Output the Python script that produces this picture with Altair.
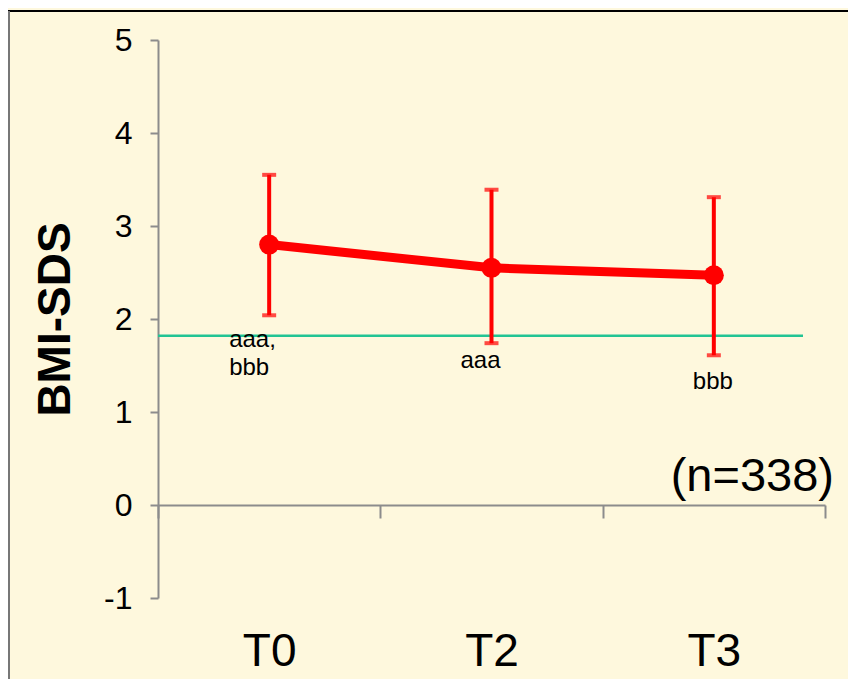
import altair as alt
import pandas as pd

categories = ["T0", "T2", "T3"]
means = [2.80, 2.55, 2.47]
upper = [3.55, 3.39, 3.31]
lower = [2.04, 1.74, 1.61]
reference_level = 1.82
y_ticks = [-1, 0, 1, 2, 3, 4, 5]
ann_cat = ["T0", "T0", "T2", "T3"]
ann_text = ["aaa,", "bbb", "aaa", "bbb"]
ann_y = [1.77, 1.47, 1.55, 1.32]
n_label = "(n=338)"
n_label_y = 0.30

W, H = 667, 558
PAD_L, PAD_T = 150, 32
RED = "#FF0000"
TEAL = "#22C493"
AXIS_GRAY = "#8C8C8C"
BG = "#FEF8DD"
FONT = "Liberation Sans"

df = pd.DataFrame({"cat": categories, "mean": means, "hi": upper, "lo": lower})
ann = pd.DataFrame({"cat": ann_cat, "text": ann_text, "y": ann_y})

yscale = alt.Scale(domain=[-1, 5], nice=False, zero=False)
xenc = alt.X(
    "cat:N",
    sort=categories,
    scale=alt.Scale(paddingInner=0, paddingOuter=0),
    axis=alt.Axis(
        title=None,
        offset=-H / 6,
        tickBand="extent",
        tickSize=13,
        tickWidth=2,
        tickColor=AXIS_GRAY,
        domainColor=AXIS_GRAY,
        domainWidth=2,
        labelAngle=0,
        labelFontSize=46,
        labelFont=FONT,
        labelColor="black",
        labelPadding=111,
        grid=False,
    ),
)

base = alt.Chart(df)

yaxis = alt.Axis(
    values=y_ticks,
    labelExpr="'' + datum.value",
    title="BMI-SDS",
    titleFont=FONT,
    titleFontSize=46,
    titleFontWeight="bold",
    titleColor="black",
    titleAngle=270,
    titleBaseline="middle",
    titleX=-103,
    titleY=H / 2,
    labelFont=FONT,
    labelFontSize=32,
    labelColor="black",
    labelPadding=18,
    tickSize=8,
    tickWidth=2,
    tickColor=AXIS_GRAY,
    domainColor=AXIS_GRAY,
    domainWidth=2,
    grid=False,
)

errbars = base.mark_rule(color=RED, strokeWidth=4).encode(
    x=xenc,
    y=alt.Y("lo:Q", scale=yscale, axis=yaxis),
    y2="hi:Q",
)
cap_hi = base.mark_tick(color=RED, size=14, thickness=4).encode(
    x=alt.X("cat:N", sort=categories), y=alt.Y("hi:Q")
)
cap_lo = base.mark_tick(color=RED, size=14, thickness=4).encode(
    x=alt.X("cat:N", sort=categories), y=alt.Y("lo:Q")
)
line = base.mark_line(color=RED, strokeWidth=9).encode(
    x=alt.X("cat:N", sort=categories), y=alt.Y("mean:Q")
)
points = base.mark_circle(color=RED, size=400, opacity=1).encode(
    x=alt.X("cat:N", sort=categories), y=alt.Y("mean:Q")
)

ref = alt.Chart(pd.DataFrame({"v": [reference_level]})).mark_rule(
    color=TEAL, strokeWidth=2.5
).encode(y="v:Q", x=alt.value(0), x2=alt.value(645))

txt_style = dict(font=FONT, fontSize=24, color="black")
ann_t0 = alt.Chart(ann[ann.cat == "T0"]).mark_text(align="left", dx=-40, **txt_style).encode(
    x=alt.X("cat:N", sort=categories), y="y:Q", text="text:N"
)
ann_t2 = alt.Chart(ann[ann.cat == "T2"]).mark_text(align="center", dx=-11, **txt_style).encode(
    x=alt.X("cat:N", sort=categories), y="y:Q", text="text:N"
)
ann_t3 = alt.Chart(ann[ann.cat == "T3"]).mark_text(align="center", dx=-1, **txt_style).encode(
    x=alt.X("cat:N", sort=categories), y="y:Q", text="text:N"
)
nlab = alt.Chart(pd.DataFrame({"t": [n_label], "y": [n_label_y]})).mark_text(
    align="right", baseline="middle", font=FONT, fontSize=47, color="black"
).encode(x=alt.value(676), y="y:Q", text="t:N")

frame_top = alt.Chart(pd.DataFrame({"a": [0]})).mark_rule(color="black", strokeWidth=2, clip=False).encode(
    x=alt.value(-PAD_L), x2=alt.value(W + 40), y=alt.value(-PAD_T + 3)
)
frame_left = alt.Chart(pd.DataFrame({"a": [0]})).mark_rule(color="#777777", strokeWidth=2, clip=False).encode(
    x=alt.value(-PAD_L + 1), y=alt.value(-PAD_T + 3), y2=alt.value(H + 120)
)

chart = alt.layer(
    frame_top, frame_left, ref, errbars, cap_hi, cap_lo, line, points,
    ann_t0, ann_t2, ann_t3, nlab
).properties(
    width=W,
    height=H,
    autosize=alt.AutoSizeParams(type="none"),
    padding={"left": PAD_L, "top": PAD_T, "right": 23, "bottom": 82},
    background=BG,
).configure_view(stroke=None)

chart.save("out.html", embed_options={"renderer": "svg", "actions": False})
